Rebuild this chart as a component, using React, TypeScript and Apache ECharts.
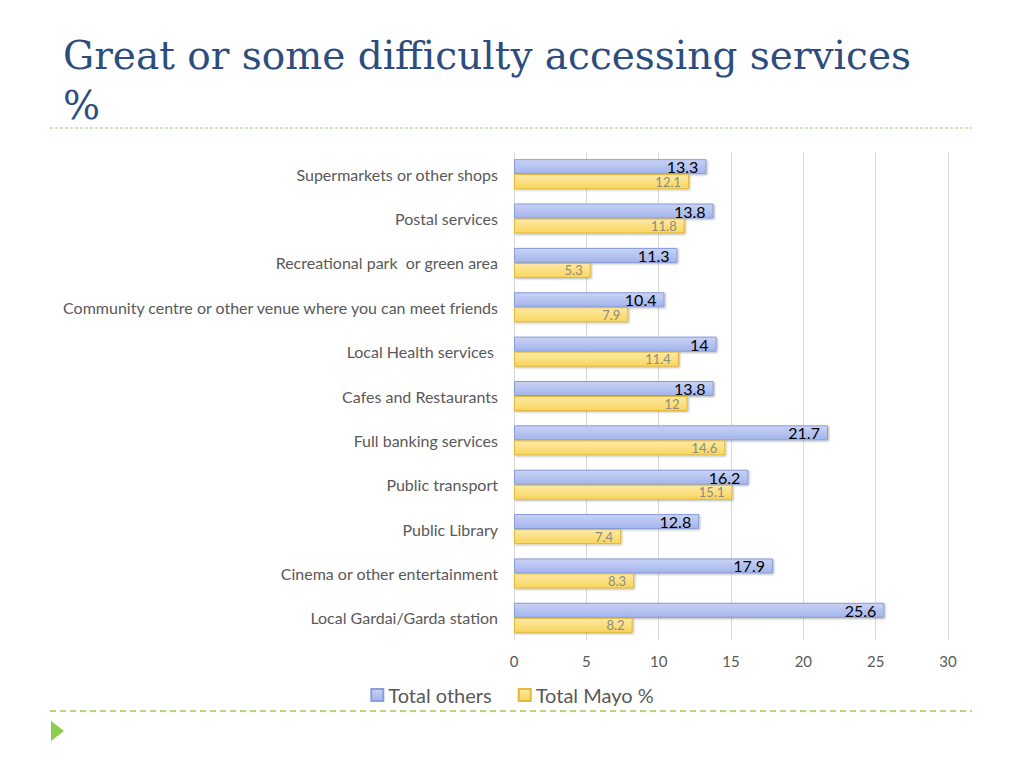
import React, { useEffect, useRef } from "react";
import * as echarts from "echarts";

const categories = [
  "Supermarkets or other shops",
  "Postal services",
  "Recreational park  or green area",
  "Community centre or other venue where you can meet friends",
  "Local Health services ",
  "Cafes and Restaurants",
  "Full banking services",
  "Public transport",
  "Public Library",
  "Cinema or other entertainment",
  "Local Gardai/Garda station",
];
const totalOthers = [13.3, 13.8, 11.3, 10.4, 14, 13.8, 21.7, 16.2, 12.8, 17.9, 25.6];
const totalMayo = [12.1, 11.8, 5.3, 7.9, 11.4, 12, 14.6, 15.1, 7.4, 8.3, 8.2];
const seriesNames = ["Total others", "Total Mayo %"];
const xTicks = { min: 0, max: 30, interval: 5 };

export default function App() {
  const ref = useRef<HTMLDivElement>(null);
  useEffect(() => {
    if (!ref.current) return;
    const chart = echarts.init(ref.current, null, { renderer: "svg" });
    const font = "Lato";
    chart.setOption({
      animation: false,
      backgroundColor: "#ffffff",
      title: {
        text: "Great or some difficulty accessing services\n%",
        left: 58,
        top: 25,
        textStyle: {
          fontFamily: "DejaVu Serif",
          fontSize: 39,
          fontWeight: "normal",
          color: "#2C4D7E",
          lineHeight: 50,
        },
      },
      legend: {
        bottom: 58,
        left: "center",
        icon: "rect",
        itemWidth: 12,
        itemHeight: 12,
        itemGap: 26,
        textStyle: { fontFamily: font, fontSize: 20, color: "#595959" },
        data: seriesNames,
      },
      grid: { left: 514, right: 76, top: 152, bottom: 128 },
      xAxis: {
        type: "value",
        min: xTicks.min,
        max: xTicks.max,
        interval: xTicks.interval,
        axisLine: { show: false },
        axisTick: { show: false },
        axisLabel: { color: "#595959", fontSize: 15, fontFamily: font, margin: 13 },
        splitLine: { lineStyle: { color: "#d9d9d9" } },
      },
      yAxis: {
        type: "category",
        inverse: true,
        data: categories,
        axisLine: { show: false },
        axisTick: { show: false },
        axisLabel: { color: "#595959", fontSize: 16, fontFamily: font, margin: 16 },
      },
      series: [
        {
          name: seriesNames[0],
          type: "bar",
          data: totalOthers,
          barWidth: 15,
          barGap: "0%",
          itemStyle: {
            color: new echarts.graphic.LinearGradient(0, 0, 0, 1, [
              { offset: 0, color: "#C9D3F5" },
              { offset: 1, color: "#A3B4EC" },
            ]),
            borderColor: "#8A9DD8",
            borderWidth: 1,
            shadowBlur: 2,
            shadowOffsetX: 1,
            shadowOffsetY: 1,
            shadowColor: "rgba(0,0,0,0.3)",
          },
          label: {
            show: true,
            position: "insideRight",
            color: "#000000",
            fontSize: 16,
            fontFamily: font,
            distance: 8,
          },
        },
        {
          name: seriesNames[1],
          type: "bar",
          data: totalMayo,
          barWidth: 15,
          itemStyle: {
            color: new echarts.graphic.LinearGradient(0, 0, 0, 1, [
              { offset: 0, color: "#FDE9A6" },
              { offset: 1, color: "#F9D65E" },
            ]),
            borderColor: "#E2B93A",
            borderWidth: 1,
            shadowBlur: 2,
            shadowOffsetX: 1,
            shadowOffsetY: 1,
            shadowColor: "rgba(0,0,0,0.3)",
          },
          label: {
            show: true,
            position: "insideRight",
            color: "#8C8C7A",
            fontSize: 13,
            fontFamily: font,
            distance: 8,
          },
        },
      ],
      graphic: [
        {
          type: "line",
          shape: { x1: 50, y1: 128, x2: 972, y2: 128 },
          style: { stroke: "#C5DC9A", lineWidth: 1.5, lineDash: [3, 2] },
        },
        {
          type: "line",
          shape: { x1: 50, y1: 711, x2: 972, y2: 711 },
          style: { stroke: "#9BCB5A", lineWidth: 1.5, lineDash: [6, 4] },
        },
        {
          type: "polygon",
          shape: { points: [[51, 721], [64, 731], [51, 741]] },
          style: { fill: "#8DCB4C" },
        },
      ],
    });
    return () => chart.dispose();
  }, []);
  return (
    <div
      ref={ref}
      style={{ position: "fixed", left: 0, top: 0, width: 1024, height: 768 }}
    />
  );
}
